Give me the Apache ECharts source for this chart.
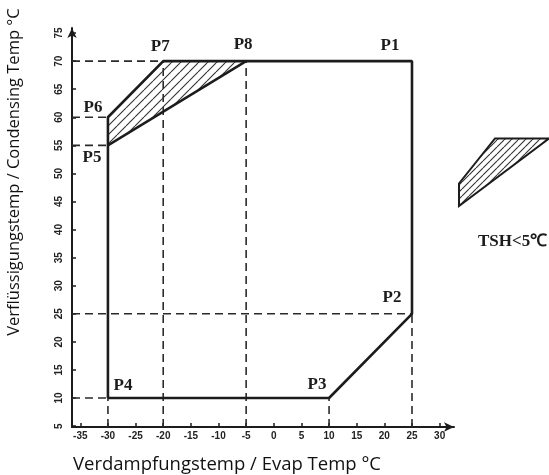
<!DOCTYPE html>
<html>
<head>
<meta charset="utf-8">
<script src="https://cdn.jsdelivr.net/npm/echarts@6/dist/echarts.min.js"></script>
<style>
  html, body { margin: 0; padding: 0; background: #ffffff; }
  #chart { width: 549px; height: 475px; }
</style>
</head>
<body>
<div id="chart"></div>
<script>
// Operating envelope points (evaporating / condensing temperature, °C)
const pointNames = ['P1', 'P2', 'P3', 'P4', 'P5', 'P6', 'P7', 'P8'];
const evapTemp   = [25, 25, 10, -30, -30, -30, -20, -5];
const condTemp   = [70, 25, 10, 10, 55, 60, 70, 70];

// Outline of the envelope, the P5-P8 boundary and the low-superheat zone
const envelopeOrder = ['P4', 'P5', 'P6', 'P7', 'P1', 'P2', 'P3', 'P4'];
const boundaryOrder = ['P5', 'P8'];
const zoneOrder     = ['P5', 'P6', 'P7', 'P8'];
const zoneNote      = 'TSH<5℃';

// Axis ticks and extents
const xTicks = [-35, -30, -25, -20, -15, -10, -5, 0, 5, 10, 15, 20, 25, 30];
const yTicks = [5, 10, 15, 20, 25, 30, 35, 40, 45, 50, 55, 60, 65, 70, 75];
const xRange = [-36.5, 32.6];
const yRange = [4.84, 75.9];

const xTitle = 'Verdampfungstemp / Evap Temp °C';
const yTitle = 'Verflüssigungstemp / Condensing Temp °C';

// Label placement around each point (pixel offsets)
const labelOffset = {
  P1: [-22, -16], P2: [-20, -16], P3: [-12, -13], P4: [15, -12],
  P5: [-16, 12], P6: [-15, -10], P7: [-3, -15], P8: [-3, -17]
};

const pt = name => {
  const i = pointNames.indexOf(name);
  return [evapTemp[i], condTemp[i]];
};

function hatch(step, color, width) {
  const c = document.createElement('canvas');
  c.width = step; c.height = step;
  const g = c.getContext('2d');
  g.strokeStyle = color; g.lineWidth = width;
  g.beginPath();
  for (const o of [-step, 0, step]) { g.moveTo(o, step); g.lineTo(o + step, 0); }
  g.stroke();
  return c;
}

const ink = '#1c1c1c';
const tickFont = { fontFamily: 'Liberation Sans', fontWeight: 'bold', fontSize: 10, color: '#222' };
const pointFont = { fontFamily: 'Liberation Serif', fontWeight: 'bold', fontSize: 17, color: ink };

// Dashed guides from every point to both axes
const guideData = [];
pointNames.forEach((n, i) => {
  guideData.push([xRange[0], condTemp[i]], [evapTemp[i], condTemp[i]], '-');
  guideData.push([evapTemp[i], yRange[0]], [evapTemp[i], condTemp[i]], '-');
});

function zoneSeries(xi, yi, step, lw) {
  return {
    type: 'custom', xAxisIndex: xi, yAxisIndex: yi, clip: false, silent: true, z: 3,
    data: [0],
    renderItem: (params, api) => ({
      type: 'polygon',
      shape: { points: zoneOrder.map(n => api.coord(pt(n))) },
      style: {
        fill: { image: hatch(step, '#333', 1.1), repeat: 'repeat' },
        stroke: lw ? ink : null, lineWidth: lw || 0
      }
    })
  };
}

const axisLineStyle = {
  onZero: false, symbol: ['none', 'arrow'], symbolSize: [7, 10],
  lineStyle: { color: ink, width: 2 }
};

const chart = echarts.init(document.getElementById('chart'), null, { renderer: 'canvas' });
chart.setOption({
  animation: false,
  backgroundColor: '#ffffff',
  grid: [
    { left: 72, right: 95, top: 28, bottom: 48 },
    { left: 459, top: 138.5, width: 102.5, height: 67.5 }
  ],
  xAxis: [
    {
      type: 'value', min: xRange[0], max: xRange[1], gridIndex: 0,
      splitLine: { show: false },
      axisLine: axisLineStyle,
      axisTick: { inside: true, length: 4, customValues: xTicks, lineStyle: { color: ink, width: 1.5 } },
      axisLabel: { customValues: xTicks, margin: 4, ...tickFont }
    },
    { type: 'value', min: -30, max: -5, gridIndex: 1, show: false }
  ],
  yAxis: [
    {
      type: 'value', min: yRange[0], max: yRange[1], gridIndex: 0,
      splitLine: { show: false },
      axisLine: axisLineStyle,
      axisTick: { inside: true, length: 4, customValues: yTicks, lineStyle: { color: ink, width: 1.5 } },
      axisLabel: { customValues: yTicks, rotate: 90, margin: 8, ...tickFont }
    },
    { type: 'value', min: 55, max: 70, gridIndex: 1, show: false }
  ],
  graphic: [
    {
      type: 'text', left: 478, top: 233, silent: true,
      style: { text: zoneNote, fontFamily: 'Liberation Serif', fontWeight: 'bold', fontSize: 17, fill: ink }
    },
    {
      type: 'text', x: 227, y: 465, silent: true,
      style: { text: xTitle, fontFamily: 'Open Sans', fontSize: 18.5, fill: '#111', align: 'center', verticalAlign: 'middle' }
    },
    {
      type: 'text', x: 14, y: 172, rotation: Math.PI / 2, silent: true,
      style: { text: yTitle, fontFamily: 'Open Sans', fontSize: 16.5, fill: '#111', align: 'center', verticalAlign: 'middle' }
    }
  ],
  series: [
    {
      type: 'line', data: guideData, symbol: 'none', connectNulls: false, silent: true, z: 1,
      lineStyle: { color: '#2a2a2a', width: 1.6, type: [8, 5] }
    },
    zoneSeries(0, 0, 9, 0),
    {
      type: 'line', data: envelopeOrder.map(pt), symbol: 'none', silent: true, z: 4,
      lineStyle: { color: ink, width: 2.6 }
    },
    {
      type: 'line', data: boundaryOrder.map(pt), symbol: 'none', silent: true, z: 4,
      lineStyle: { color: ink, width: 2.4 }
    },
    {
      type: 'scatter', symbolSize: 0, silent: true, z: 5,
      itemStyle: { opacity: 1 },
      data: pointNames.map(n => ({
        value: pt(n),
        label: {
          show: true, formatter: n, position: 'inside',
          offset: labelOffset[n], ...pointFont
        }
      }))
    },
    zoneSeries(1, 1, 7, 2)
  ]
});
</script>
</body>
</html>
